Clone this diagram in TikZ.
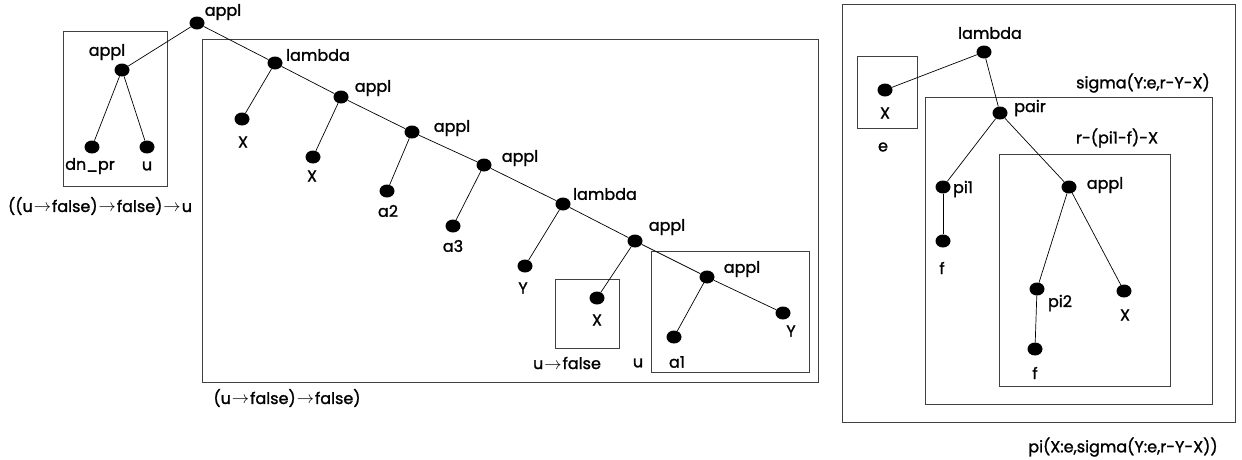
\documentclass[tikz,border=0pt]{standalone}
\usepackage{fontspec}
\setmainfont{Poppins}[FakeBold=1.4]
\usetikzlibrary{shapes.geometric}
\tikzset{
  dot/.style={ellipse,fill=black,inner sep=0pt,minimum width=15pt,minimum height=13pt},
  lbl/.style={inner sep=0pt,font=\fontsize{16}{18}\selectfont},
  edge/.style={draw=black,line width=0.7pt},
  frame/.style={draw=black!75,line width=1pt}
}
\newcommand{\ar}{\kern1pt$\rightarrow$\kern1pt}
\begin{document}
\begin{tikzpicture}[x=1pt,y=-1pt]
\useasboundingbox (0,0) rectangle (1242,459);
% boxes
\draw[frame] (63,31) rectangle (167,186);
\draw[frame] (202,39) rectangle (818,382);
\draw[frame] (555,279) rectangle (619,348);
\draw[frame] (651,251) rectangle (809,372);
\draw[frame] (842,4) rectangle (1235,422);
\draw[frame] (857,56) rectangle (917,128);
\draw[frame] (925,97) rectangle (1212,404);
\draw[frame] (999,154) rectangle (1170,386);
% left tree nodes
\node[dot] (root) at (197,23) {};
\node[dot] (ap2) at (122,70) {};
\node[dot] (dn) at (92,147) {};
\node[dot] (u1) at (147,147) {};
\node[dot] (lam1) at (275,63) {};
\node[dot] (x1) at (242,119) {};
\node[dot] (ap3) at (341,97) {};
\node[dot] (x2) at (313,157) {};
\node[dot] (ap4) at (412,132) {};
\node[dot] (a2) at (387,191) {};
\node[dot] (ap5) at (484,165) {};
\node[dot] (a3) at (453,226) {};
\node[dot] (lam2) at (563,204) {};
\node[dot] (y1) at (525,266) {};
\node[dot] (ap6) at (635,241) {};
\node[dot] (x3) at (597,298) {};
\node[dot] (ap7) at (707,277) {};
\node[dot] (a1) at (674,337) {};
\node[dot] (y2) at (783,313) {};
% right tree nodes
\node[dot] (lamR) at (984,52) {};
\node[dot] (xR) at (885,90) {};
\node[dot] (pair) at (1000,113) {};
\node[dot] (pi1) at (943,187) {};
\node[dot] (f1) at (943,241) {};
\node[dot] (apR) at (1069,187) {};
\node[dot] (pi2) at (1037,289) {};
\node[dot] (f2) at (1035,349) {};
\node[dot] (xR2) at (1124,291) {};
% edges
\draw[edge] (root)--(ap2) (root)--(lam1);
\draw[edge] (ap2)--(dn) (ap2)--(u1);
\draw[edge] (lam1)--(x1) (lam1)--(ap3);
\draw[edge] (ap3)--(x2) (ap3)--(ap4);
\draw[edge] (ap4)--(a2) (ap4)--(ap5);
\draw[edge] (ap5)--(a3) (ap5)--(lam2);
\draw[edge] (lam2)--(y1) (lam2)--(ap6);
\draw[edge] (ap6)--(x3) (ap6)--(ap7);
\draw[edge] (ap7)--(a1) (ap7)--(y2);
\draw[edge] (lamR)--(xR) (lamR)--(pair);
\draw[edge] (pair)--(pi1) (pair)--(apR);
\draw[edge] (pi1)--(f1);
\draw[edge] (apR)--(pi2) (apR)--(xR2);
\draw[edge] (pi2)--(f2);
% labels left
\node[lbl] (l1) at (223,12) {appl};
\node[lbl] (l2) at (107,52) {appl};
\node[lbl] (l3) at (90,166) {dn\_pr};
\node[lbl] (l4) at (147,166) {u};
\node[lbl] (l5) at (100,206) {((u\ar false)\ar false)\ar u};
\node[lbl] (l6) at (318,55) {lambda};
\node[lbl] (l7) at (243,142) {X};
\node[lbl] (l8) at (373,88) {appl};
\node[lbl] (l9) at (312,176) {X};
\node[lbl] (l10) at (452,128) {appl};
\node[lbl] (l11) at (388,211) {a2};
\node[lbl] (l12) at (520,158) {appl};
\node[lbl] (l13) at (453,246) {a3};
\node[lbl] (l14) at (605,194) {lambda};
\node[lbl] (l15) at (523,288) {Y};
\node[lbl] (l16) at (667,227) {appl};
\node[lbl] (l17) at (597,320) {X};
\node[lbl] (l18) at (567,363) {u\ar false};
\node[lbl] (l19) at (638,363) {u};
\node[lbl] (l20) at (742,269) {appl};
\node[lbl] (l21) at (677,362) {a1};
\node[lbl] (l22) at (791,331) {Y};
\node[lbl] (l23) at (287,398) {(u\ar false)\ar false)};
% labels right
\node[lbl] (r1) at (990,33) {lambda};
\node[lbl] (r2) at (885,113) {X};
\node[lbl] (r3) at (883,147) {e};
\node[lbl] (r4) at (1143,83) {sigma(Y:e,r-Y-X)};
\node[lbl] (r5) at (1030,108) {pair};
\node[lbl] (r6) at (1117,138) {r-(pi1-f)-X};
\node[lbl] (r7) at (963,189) {pi1};
\node[lbl] (r8) at (942,268) {f};
\node[lbl] (r9) at (1105,185) {appl};
\node[lbl] (r10) at (1060,303) {pi2};
\node[lbl] (r11) at (1035,373) {f};
\node[lbl] (r12) at (1125,315) {X};
\node[lbl] (r13) at (1123,447) {pi(X:e,sigma(Y:e,r-Y-X))};
\end{tikzpicture}
\end{document}
